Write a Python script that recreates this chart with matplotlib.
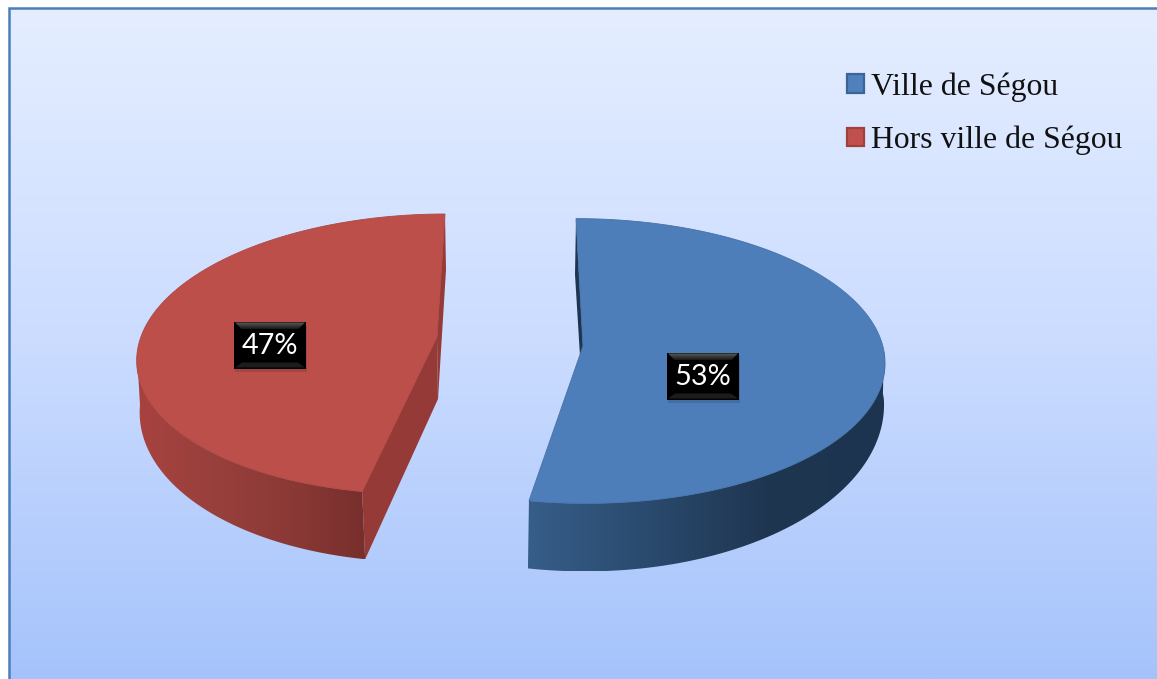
import numpy as np
import matplotlib
matplotlib.use("Agg")
import matplotlib.pyplot as plt
from matplotlib.colors import LinearSegmentedColormap
from matplotlib.patches import Patch, Polygon, Rectangle

labels = ["Ville de Ségou", "Hors ville de Ségou"]
shares = [53, 47]

W, H = 1157, 679


def ellipse_point(s, t):
    t = np.radians(t)
    return np.column_stack([
        s["cx"] + s["a"] * np.cos(t) + s["shear"] * np.sin(t),
        s["cy"] - s["b"] * np.sin(t),
    ])


def wall_point(s, t):
    # the side wall looks shallower towards the left and right ends
    p = ellipse_point(s, t)
    depth = s["depth"] * (s["side"] + (1 - s["side"]) * np.abs(np.sin(np.radians(t))))
    return p + np.column_stack([np.full(len(p), s["dx"]), depth])


def gradient_fill(ax, path_pts, x0, x1, y0, y1, colors, horizontal=True, z=2):
    cmap = LinearSegmentedColormap.from_list("g", colors)
    ramp = np.linspace(0, 1, 256)
    ramp = ramp[None, :] if horizontal else ramp[:, None]
    im = ax.imshow(ramp, cmap=cmap, extent=(x0, x1, y1, y0), aspect="auto",
                   vmin=0, vmax=1, zorder=z)
    clip = Polygon(path_pts, closed=True, transform=ax.transData, fc="none", ec="none")
    ax.add_patch(clip)
    im.set_clip_path(clip)


def value_box(ax, x, y, text):
    w, h = 72, 47
    l, t = x - w / 2, y - h / 2
    ax.add_patch(Rectangle((l + 1, t + 3), w, h, fc="black", alpha=0.12, ec="none", zorder=6))
    ax.add_patch(Rectangle((l, t), w, h, fc="black", ec="none", zorder=7))
    gradient_fill(ax, [(l + 1, t + 1), (l + w - 1, t + 1), (l + w - 8, t + 8), (l + 8, t + 8)],
                  l, l + w, t + 1, t + 8, ["#5e5e5e", "#161616"], horizontal=False, z=8)
    ax.add_patch(Polygon([(l + 8, t + h - 6), (l + w - 8, t + h - 6), (l + w - 1, t + h - 1), (l + 1, t + h - 1)],
                         fc="#1c1c1c", ec="none", zorder=8))
    ax.text(x, y + 1, text, color="white", fontsize=20.8, family="Lato",
            ha="center", va="center", zorder=9)


fig = plt.figure(figsize=(W / 100, H / 100), dpi=100, facecolor="white")
ax = fig.add_axes([0, 0, 1, 1])

# chart area
gradient_fill(ax, [(9, 8), (W, 8), (W, H), (9, H)], 9, W, 8, H,
              ["#e5eeff", "#cbdcff", "#a5c3fb"], horizontal=False, z=1)
ax.plot([9, 9, W], [H, 8, 8], color="#4a7ebb", lw=1.8, zorder=3, solid_joinstyle="miter")

# one slice per value, clockwise from the top
geom = [
    dict(cx=581, cy=361, a=304, b=142.4, shear=-5, depth=68, dx=-1, side=0.6, apex=(583, 346),
         face="#4d7eb9", edge="#4672a8", inner="#1d3550",
         wall=["#365e89", "#2a4a6e", "#1f3651", "#1d3450"]),
    dict(cx=431, cy=354, a=294, b=140, shear=14, depth=68, dx=3, side=0.75, apex=(437, 337),
         face="#bd4f4b", edge="#ad4845", inner="#953a37",
         wall=["#a8423f", "#98403c", "#8b3936", "#772f2c"]),
]
start = 90.0
for share, s in zip(shares, geom):
    end = start - share * 3.6
    arc_t = np.linspace(start, end, 300)
    arc = ellipse_point(s, arc_t)
    apex = np.array(s["apex"])

    # outer wall, only the part that faces the viewer
    t_wall = np.linspace(max(end, -180), min(start, 4), 200)
    top = ellipse_point(s, t_wall)
    bot = wall_point(s, t_wall)
    pts = np.vstack([top, bot[::-1]])
    gradient_fill(ax, pts, pts[:, 0].min(), pts[:, 0].max(), pts[:, 1].min(), pts[:, 1].max(),
                  s["wall"], z=2)

    # cut faces: near is the radius running to the front, far the one to the back
    near_t, far_t = (end, start) if np.sin(np.radians(end)) < np.sin(np.radians(start)) else (start, end)
    near = ellipse_point(s, np.array([near_t]))[0]
    near_low = wall_point(s, np.array([near_t]))[0]
    far = ellipse_point(s, np.array([far_t]))[0]
    if s["dx"] > 0:
        apex_low = apex + [1, 62]
        ax.add_patch(Polygon([near, apex, apex_low, near_low], fc=s["inner"], ec="none", zorder=3))
        ax.add_patch(Polygon([far, far + [1, 56], apex_low, apex], fc=s["inner"], ec="none", zorder=3))
    else:
        ax.add_patch(Polygon([far, far + [-1, 56], apex + [-3, 10], apex], fc=s["inner"], ec="none", zorder=3))

    # top face
    ax.add_patch(Polygon(np.vstack([apex, arc]), closed=True, fc=s["face"], ec=s["edge"],
                         lw=0.6, joinstyle="miter", zorder=4))
    start = end

value_box(ax, 703, 376, f"{shares[0]}%")
value_box(ax, 270, 345, f"{shares[1]}%")

handles = [
    Patch(fc="#4f81bd", ec="#3a6596", lw=1.6),
    Patch(fc="#c0504d", ec="#a03f3c", lw=1.6),
]
ax.legend(handles, labels, loc="upper left", bbox_to_anchor=(847 / W, 1 - 72 / H),
          frameon=False, prop={"family": "Liberation Serif", "size": 22.85},
          handlelength=0.52, handleheight=0.52, handletextpad=0.25,
          labelspacing=0.77, borderpad=0, borderaxespad=0, labelcolor="#111111")

ax.set_xlim(0, W)
ax.set_ylim(H, 0)
ax.axis("off")
fig.savefig("out.png", dpi=100)
